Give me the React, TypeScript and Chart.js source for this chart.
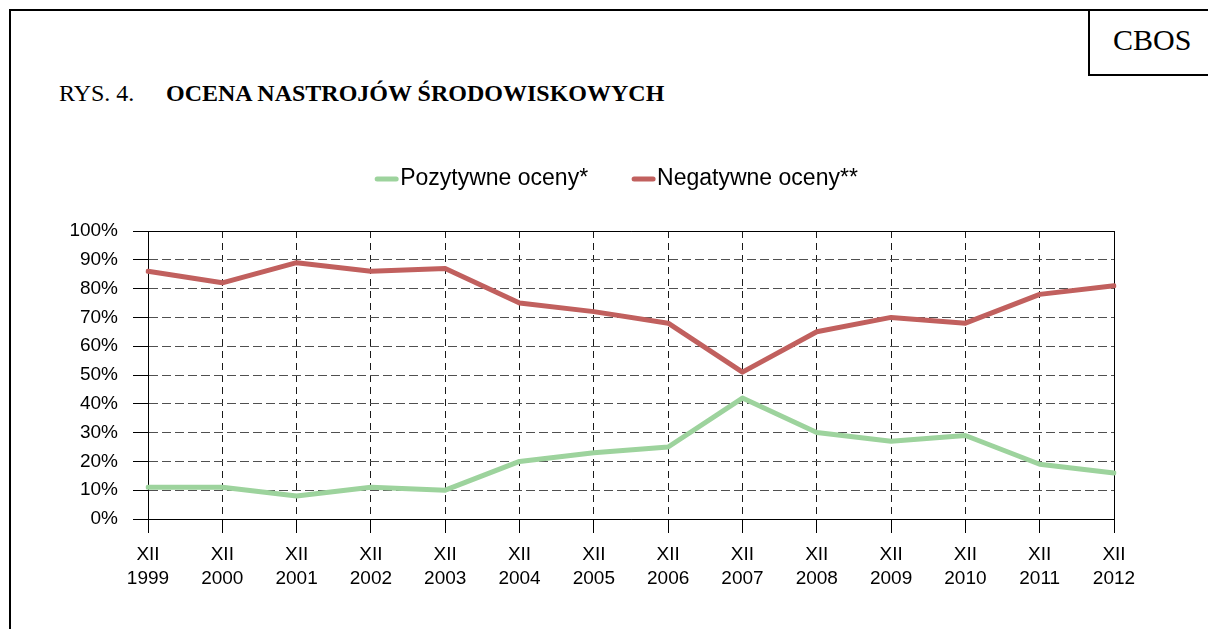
import React, { useEffect, useRef } from "react";
import { Chart, registerables } from "chart.js";

Chart.register(...registerables);

const years = ["1999", "2000", "2001", "2002", "2003", "2004", "2005", "2006", "2007", "2008", "2009", "2010", "2011", "2012"];
const monthLabel = "XII";
const positive = [11, 11, 8, 11, 10, 20, 23, 25, 42, 30, 27, 29, 19, 16];
const negative = [86, 82, 89, 86, 87, 75, 72, 68, 51, 65, 70, 68, 78, 81];
const seriesNames = ["Pozytywne oceny*", "Negatywne oceny**"];
const seriesColors = ["#9dd39d", "#c1605e"];
const yMin = 0;
const yMax = 100;
const yStep = 10;

const SANS = "'Liberation Sans', Arial, sans-serif";
const SERIF = "'Liberation Serif', 'Times New Roman', serif";

const customLegend = {
  id: "customLegend",
  afterDraw(chart: any) {
    const ctx = chart.ctx;
    const ds = chart.data.datasets;
    ctx.save();
    ctx.font = `23px ${SANS}`;
    const lineLen = 23;
    const gap = 2;
    const itemGap = 44;
    const widths = ds.map((d: any) => lineLen + gap + ctx.measureText(d.label).width);
    const total = widths.reduce((a: number, b: number) => a + b, 0) + itemGap * (ds.length - 1);
    let x = 616.5 - total / 2;
    const y = 179;
    ds.forEach((d: any, i: number) => {
      ctx.strokeStyle = d.borderColor;
      ctx.lineWidth = 5;
      ctx.lineCap = "round";
      ctx.beginPath();
      ctx.moveTo(x + 2, y);
      ctx.lineTo(x + lineLen - 2, y);
      ctx.stroke();
      ctx.fillStyle = "#000";
      ctx.textBaseline = "middle";
      ctx.textAlign = "left";
      ctx.fillText(d.label, x + lineLen + gap, y);
      x += widths[i] + itemGap;
    });
    ctx.restore();
  },
};

const plotBorder = {
  id: "plotBorder",
  beforeDatasetsDraw(chart: any) {
    const { ctx, chartArea } = chart;
    ctx.save();
    ctx.strokeStyle = "#000";
    ctx.lineWidth = 1;
    ctx.beginPath();
    ctx.moveTo(chartArea.left, chartArea.top + 0.5);
    ctx.lineTo(chartArea.right + 0.5, chartArea.top + 0.5);
    ctx.lineTo(chartArea.right + 0.5, chartArea.bottom);
    ctx.stroke();
    ctx.restore();
  },
};

export default function App() {
  const ref = useRef<HTMLCanvasElement | null>(null);

  useEffect(() => {
    if (!ref.current) return;
    const chart = new Chart(ref.current, {
      type: "line",
      data: {
        labels: years.map((y) => [monthLabel, y]),
        datasets: [
          {
            label: seriesNames[0],
            data: positive,
            borderColor: seriesColors[0],
            backgroundColor: seriesColors[0],
            borderWidth: 5,
            pointRadius: 0,
            tension: 0,
            borderJoinStyle: "round",
            borderCapStyle: "round",
          },
          {
            label: seriesNames[1],
            data: negative,
            borderColor: seriesColors[1],
            backgroundColor: seriesColors[1],
            borderWidth: 5,
            pointRadius: 0,
            tension: 0,
            borderJoinStyle: "round",
            borderCapStyle: "round",
          },
        ],
      },
      options: {
        responsive: false,
        animation: false,
        layout: { padding: { top: 231, left: 0, right: 94, bottom: 0 } },
        plugins: {
          legend: { display: false },
          tooltip: { enabled: false },
          title: { display: false },
        },
        scales: {
          x: {
            type: "category",
            offset: false,
            grid: {
              offset: false,
              color: "#1a1a1a",
              lineWidth: 1,
              tickLength: 14,
              tickColor: "#000",
              tickWidth: 1,
              tickBorderDash: [],
            },
            border: { display: true, color: "#000", width: 1, dash: [7, 5] },
            ticks: {
              color: "#000",
              font: { family: SANS, size: 19, lineHeight: 1.25 },
              padding: 10,
              maxRotation: 0,
              autoSkip: false,
            },
            afterFit(scale: any) {
              scale.height = 110;
            },
          },
          y: {
            min: yMin,
            max: yMax,
            grid: {
              color: "#505050",
              lineWidth: 1,
              tickLength: 15,
              tickColor: "#000",
              tickWidth: 1,
              tickBorderDash: [],
            },
            border: { display: true, color: "#000", width: 1, dash: [9, 4] },
            ticks: {
              stepSize: yStep,
              color: "#000",
              font: { family: SANS, size: 19 },
              padding: 15,
              callback: (v: any) => `${v}%`,
            },
            afterFit(scale: any) {
              scale.width = 148;
            },
          },
        },
      },
      plugins: [plotBorder, customLegend],
    });
    return () => chart.destroy();
  }, []);

  return (
    <div style={{ position: "absolute", left: 0, top: 0, width: 1208, height: 629, overflow: "hidden", background: "#fff" }}>
      <div style={{ position: "absolute", left: 9, top: 9, width: 1199, height: 2, background: "#000" }} />
      <div style={{ position: "absolute", left: 9, top: 9, width: 2, height: 620, background: "#000" }} />
      <div
        style={{
          position: "absolute",
          left: 1088,
          top: 9,
          width: 140,
          height: 65,
          borderLeft: "2px solid #000",
          borderBottom: "2px solid #000",
        }}
      />
      <div
        style={{
          position: "absolute",
          left: 1113,
          top: 24.5,
          fontFamily: SERIF,
          fontSize: 30,
          lineHeight: "30px",
          whiteSpace: "nowrap",
          color: "#000",
        }}
      >
        CBOS
      </div>
      <div
        style={{
          position: "absolute",
          left: 59,
          top: 81.4,
          fontFamily: SERIF,
          fontSize: 24,
          lineHeight: "24px",
          whiteSpace: "nowrap",
          color: "#000",
        }}
      >
        RYS. 4.
      </div>
      <div
        style={{
          position: "absolute",
          left: 166,
          top: 81.4,
          fontFamily: SERIF,
          fontSize: 24,
          fontWeight: "bold",
          lineHeight: "24px",
          whiteSpace: "nowrap",
          color: "#000",
        }}
      >
        OCENA NASTROJÓW ŚRODOWISKOWYCH
      </div>
      <canvas ref={ref} width={1208} height={629} style={{ position: "absolute", left: 0, top: 0, width: 1208, height: 629 }} />
    </div>
  );
}
